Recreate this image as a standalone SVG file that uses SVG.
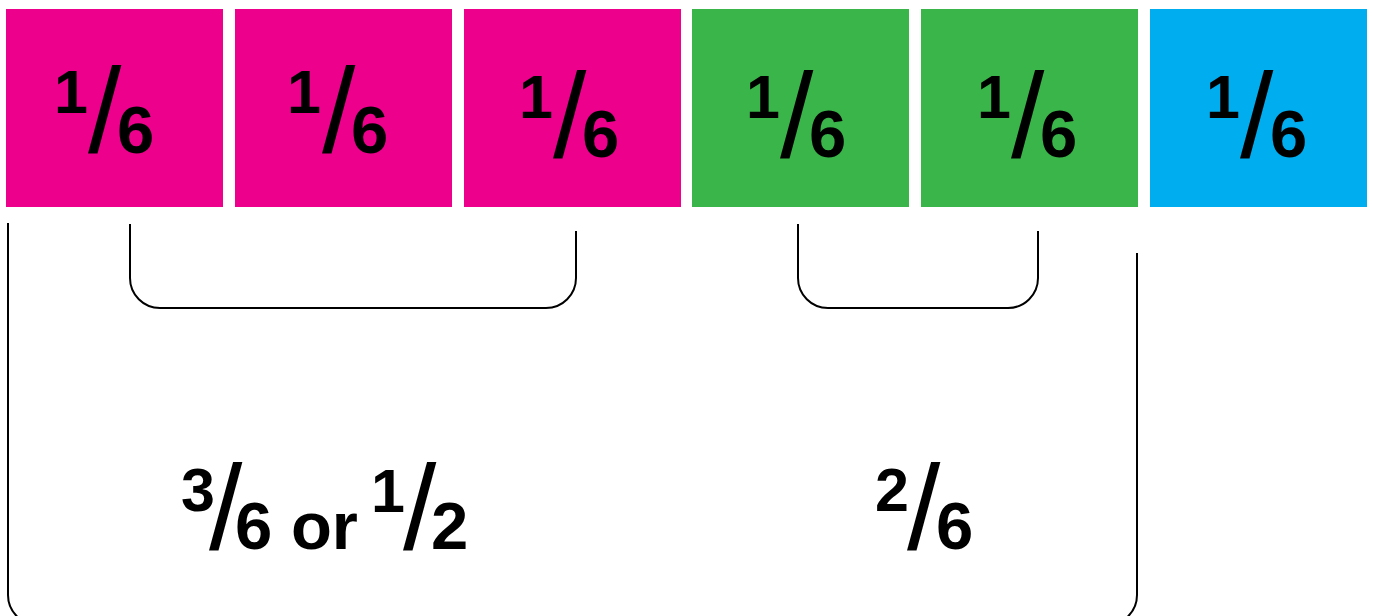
<svg xmlns="http://www.w3.org/2000/svg" width="1374" height="616" viewBox="0 0 1374 616">
<style>
  text { font-family: "Liberation Sans", Arial, sans-serif; fill: #000; font-weight: bold; }
  .num { font-weight: bold; font-size: 61px; }
  .den { font-weight: bold; font-size: 67px; }
  .sl { font-weight: normal; font-size: 120px; }
  .pink { fill: #EC008C; }
  .green { fill: #3AB54A; }
  .blue { fill: #00AEEF; }
  .br { fill: none; stroke: #000; stroke-width: 2; }
</style>
<rect x="0" y="0" width="1374" height="616" fill="#fff"/>
<g id="box1">
  <rect class="pink" x="6" y="9" width="217" height="198"/>
  <text><tspan class="num" x="54" y="113">1</tspan><tspan class="sl" x="88" y="152">/</tspan><tspan class="den" x="117" y="153">6</tspan></text>
</g>
<g id="box2">
  <rect class="pink" x="235" y="9" width="217" height="198"/>
  <text><tspan class="num" x="287" y="113">1</tspan><tspan class="sl" x="322" y="152">/</tspan><tspan class="den" x="351" y="153">6</tspan></text>
</g>
<g id="box3">
  <rect class="pink" x="464" y="9" width="217" height="198"/>
  <text><tspan class="num" x="519" y="118">1</tspan><tspan class="sl" x="553" y="157">/</tspan><tspan class="den" x="582" y="157">6</tspan></text>
</g>
<g id="box4">
  <rect class="green" x="692" y="9" width="217" height="198"/>
  <text><tspan class="num" x="746" y="118">1</tspan><tspan class="sl" x="780" y="157">/</tspan><tspan class="den" x="809" y="157">6</tspan></text>
</g>
<g id="box5">
  <rect class="green" x="921" y="9" width="217" height="198"/>
  <text><tspan class="num" x="977" y="118">1</tspan><tspan class="sl" x="1011" y="157">/</tspan><tspan class="den" x="1040" y="157">6</tspan></text>
</g>
<g id="box6">
  <rect class="blue" x="1150" y="9" width="217" height="198"/>
  <text><tspan class="num" x="1206" y="118">1</tspan><tspan class="sl" x="1240" y="157">/</tspan><tspan class="den" x="1270" y="157">6</tspan></text>
</g>
<g id="connectors">
  <path class="br" d="M130,224 V278 A30,30 0 0 0 160,308 H546 A30,30 0 0 0 576,278 V231"/>
  <path class="br" d="M798,224 V278 A30,30 0 0 0 828,308 H1008 A30,30 0 0 0 1038,278 V231"/>
  <path class="br" d="M8,223 V595 A30,30 0 0 0 38,625 H1107 A30,30 0 0 0 1137,595 V253"/>
</g>
<g id="label-half">
  <text><tspan class="num" x="181" y="511">3</tspan><tspan class="sl" x="209" y="549">/</tspan><tspan class="den" x="235" y="549">6 or</tspan><tspan class="num" x="371" y="512">1</tspan><tspan class="sl" x="403" y="549">/</tspan><tspan class="den" x="431" y="549">2</tspan></text>
</g>
<g id="label-two-sixths">
  <text><tspan class="num" x="875" y="511">2</tspan><tspan class="sl" x="907" y="549">/</tspan><tspan class="den" x="936" y="549">6</tspan></text>
</g>
</svg>
